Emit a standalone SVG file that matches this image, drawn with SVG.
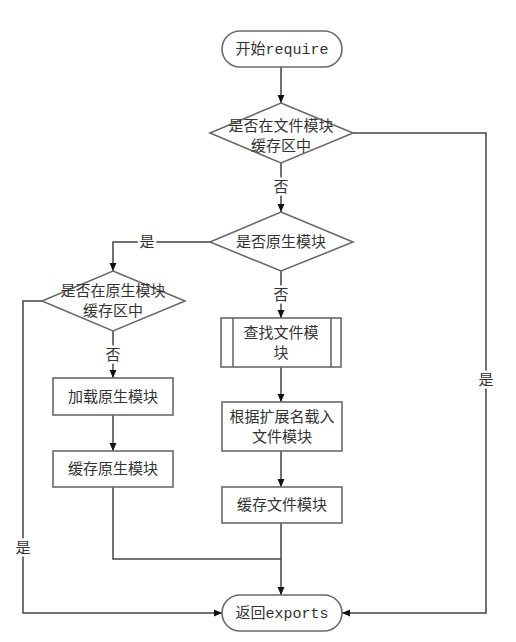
<svg xmlns="http://www.w3.org/2000/svg" width="516" height="642" viewBox="0 0 516 642">
<style>
.s{fill:#fff;stroke:#6a6a6a;stroke-width:1.6}
.c{fill:none;stroke:#444;stroke-width:1.5}
text{font-family:"Liberation Mono","Noto Sans CJK SC",monospace;font-size:15px;fill:#333;text-anchor:middle}
.l{stroke:#fff;stroke-width:5;paint-order:stroke}
</style>
<defs>
<marker id="a" markerWidth="10" markerHeight="10" refX="9" refY="5" orient="auto" markerUnits="userSpaceOnUse">
<path d="M1,1.5 L9,5 L1,8.5 Z" fill="#111"/>
</marker>
</defs>
<g id="connectors">
<path class="c" d="M281,67 V103" marker-end="url(#a)"/>
<path class="c" d="M281,163 V212" marker-end="url(#a)"/>
<path class="c" d="M353,133 H486 V613 H342" marker-end="url(#a)"/>
<path class="c" d="M210,242 H113 V271" marker-end="url(#a)"/>
<path class="c" d="M281,271 V318" marker-end="url(#a)"/>
<path class="c" d="M113,331 V378" marker-end="url(#a)"/>
<path class="c" d="M42,301 H23 V613 H222" marker-end="url(#a)"/>
<path class="c" d="M113,415 V451" marker-end="url(#a)"/>
<path class="c" d="M281,367 V402" marker-end="url(#a)"/>
<path class="c" d="M281,451 V487" marker-end="url(#a)"/>
<path class="c" d="M113,487 V559 H281"/>
<path class="c" d="M281,523 V595" marker-end="url(#a)"/>
<text class="l" x="281" y="192">否</text>
<text class="l" x="486" y="385">是</text>
<text class="l" x="147" y="247">是</text>
<text class="l" x="281" y="300">否</text>
<text class="l" x="113" y="360">否</text>
<text class="l" x="23" y="553">是</text>
</g>
<g id="start">
<rect class="s" x="222" y="31" width="120" height="36" rx="18"/>
<text x="282" y="54">开始require</text>
</g>
<g id="d1">
<polygon class="s" points="281,103 353,133 281,163 210,133"/>
<text x="281" y="131">是否在文件模块</text>
<text x="281" y="151">缓存区中</text>
</g>
<g id="d2">
<polygon class="s" points="281,212 353,242 281,271 210,242"/>
<text x="281" y="247">是否原生模块</text>
</g>
<g id="d3">
<polygon class="s" points="113,271 185,301 113,331 42,301"/>
<text x="113" y="296">是否在原生模块</text>
<text x="113" y="316">缓存区中</text>
</g>
<g id="find">
<rect class="s" x="221" y="318" width="120" height="49"/>
<line class="s" x1="233" y1="318" x2="233" y2="367"/>
<line class="s" x1="331" y1="318" x2="331" y2="367"/>
<text x="281" y="338">查找文件模</text>
<text x="281" y="358">块</text>
</g>
<g id="load">
<rect class="s" x="222" y="402" width="120" height="49"/>
<text x="282" y="422">根据扩展名载入</text>
<text x="282" y="442">文件模块</text>
</g>
<g id="cachefile">
<rect class="s" x="222" y="487" width="120" height="36"/>
<text x="282" y="510">缓存文件模块</text>
</g>
<g id="loadnative">
<rect class="s" x="53" y="378" width="120" height="37"/>
<text x="113" y="402">加载原生模块</text>
</g>
<g id="cachenative">
<rect class="s" x="53" y="451" width="120" height="36"/>
<text x="113" y="474">缓存原生模块</text>
</g>
<g id="end">
<rect class="s" x="222" y="595" width="120" height="36" rx="18"/>
<text x="282" y="618">返回exports</text>
</g>
</svg>
